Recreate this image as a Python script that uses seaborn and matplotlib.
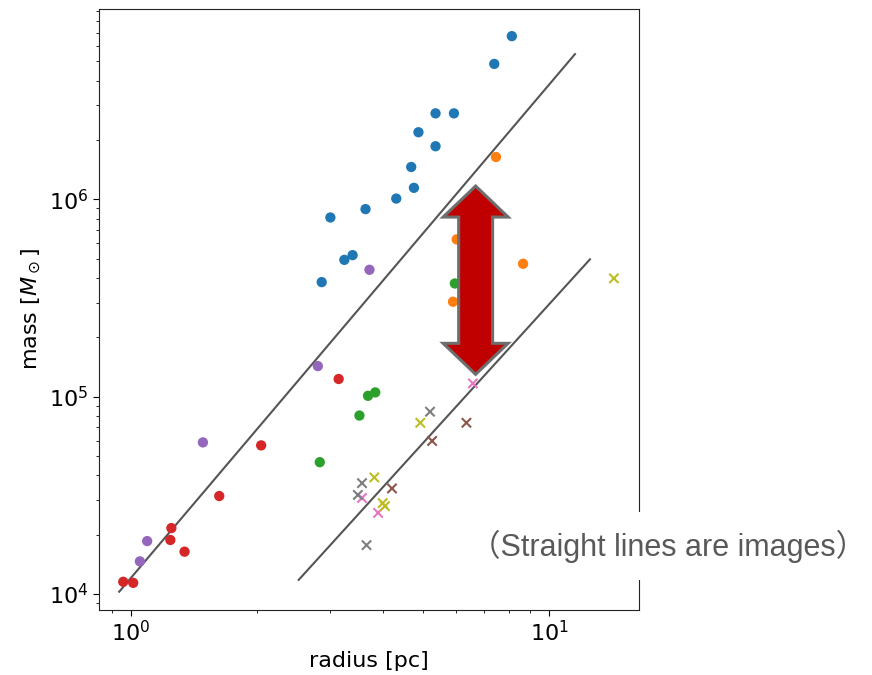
import numpy as np
import pandas as pd
import matplotlib
matplotlib.use("Agg")
import matplotlib.pyplot as plt
from matplotlib.patches import Polygon, Rectangle
import seaborn as sns

# ---- data ----
blue_r = [8.14, 7.39, 5.35, 5.92, 4.87, 5.35, 4.68, 4.75, 4.31, 3.64, 3.00, 3.24, 3.39, 2.86]
blue_m = [6.72e6, 4.86e6, 2.73e6, 2.73e6, 2.19e6, 1.86e6, 1.46e6, 1.145e6, 1.01e6, 8.93e5, 8.1e5, 4.94e5, 5.22e5, 3.81e5]
orange_r = [7.46, 6.01, 8.66, 5.89]
orange_m = [1.64e6, 6.27e5, 4.72e5, 3.03e5]
green_r = [5.95, 3.69, 3.84, 3.52, 2.83]
green_m = [3.75e5, 1.011e5, 1.052e5, 8.03e4, 4.66e4]
red_r = [3.14, 2.05, 1.628, 1.251, 1.244, 1.345, 0.96, 1.014]
red_m = [1.23e5, 5.67e4, 3.14e4, 2.16e4, 1.88e4, 1.64e4, 1.154e4, 1.14e4]
purple_r = [3.72, 2.80, 1.488, 1.095, 1.052]
purple_m = [4.40e5, 1.43e5, 5.87e4, 1.856e4, 1.465e4]

brown_r = [6.34, 5.25, 4.21]
brown_m = [7.38e4, 5.97e4, 3.43e4]
pink_r = [6.57, 3.57, 3.90]
pink_m = [1.168e5, 3.07e4, 2.58e4]
gray_r = [5.19, 3.57, 3.49, 3.66]
gray_m = [8.4e4, 3.65e4, 3.18e4, 1.77e4]
olive_r = [14.27, 4.92, 3.82, 4.00, 4.05]
olive_m = [3.98e5, 7.38e4, 3.90e4, 2.89e4, 2.79e4]

line1_r = [0.939, 11.52]
line1_m = [1.028e4, 5.45e6]
line2_r = [2.52, 12.51]
line2_m = [1.18e4, 4.97e5]

note_text = "（Straight lines are images）"

# ---- build tables ----
circle_groups = [("A", blue_r, blue_m), ("B", orange_r, orange_m), ("C", green_r, green_m),
                 ("D", red_r, red_m), ("E", purple_r, purple_m)]
cross_groups = [("F", brown_r, brown_m), ("G", pink_r, pink_m), ("H", gray_r, gray_m),
                ("I", olive_r, olive_m)]

def to_df(groups):
    rows = []
    for g, rr, mm in groups:
        for r, m in zip(rr, mm):
            rows.append({"group": g, "radius": r, "mass": m})
    return pd.DataFrame(rows)

df_c = to_df(circle_groups)
df_x = to_df(cross_groups)

tab = sns.color_palette("tab10")
pal_c = {g: tab[i] for i, (g, _, _) in enumerate(circle_groups)}
pal_x = {g: tab[i + 5] for i, (g, _, _) in enumerate(cross_groups)}

fig = plt.figure(figsize=(8.72, 6.75), dpi=100)
ax = fig.add_axes([0.113, 0.097, 0.620, 0.890])

ax.plot(line1_r, line1_m, color="#555555", lw=1.5, zorder=1)
ax.plot(line2_r, line2_m, color="#555555", lw=1.5, zorder=1)

sns.scatterplot(data=df_c, x="radius", y="mass", hue="group", palette=pal_c,
                marker="o", s=55, linewidth=0, legend=False, ax=ax, zorder=3)
sns.scatterplot(data=df_x, x="radius", y="mass", hue="group", palette=pal_x,
                marker="x", s=45, linewidth=1.5, legend=False, ax=ax, zorder=3)

ax.set_xscale("log")
ax.set_yscale("log")
ax.set_xlim(0.838, 16.4)
ax.set_ylim(8.35e3, 9.25e6)
ax.set_xlabel("radius [pc]", fontsize=16)
ax.set_ylabel(r"mass [$M_\odot$]", fontsize=16)
ax.tick_params(axis="both", which="major", labelsize=16, length=4)
ax.tick_params(axis="both", which="minor", length=2.5)
for sp in ax.spines.values():
    sp.set_color("#222222")

# red double arrow overlay (axes fraction)
cx, hw, sw = 0.6975, 0.0601, 0.0314
top, wing_t, wing_b, bot = 0.7049, 0.6533, 0.4431, 0.3915
arrow_pts = [(cx, top), (cx + hw, wing_t), (cx + sw, wing_t), (cx + sw, wing_b),
             (cx + hw, wing_b), (cx, bot), (cx - hw, wing_b), (cx - sw, wing_b),
             (cx - sw, wing_t), (cx - hw, wing_t)]
ax.add_patch(Polygon(arrow_pts, closed=True, transform=ax.transAxes,
                     facecolor="#C00000", edgecolor="#6e6e6e", lw=2.2,
                     joinstyle="miter", zorder=5))

# white backing box of the note (covers the right spine, as in the reference)
fig.patches.append(Rectangle((468 / 872, 1 - 580 / 675), (872 - 468) / 872, 68 / 675,
                             transform=fig.transFigure, facecolor="white",
                             edgecolor="none", zorder=9))
fig.text(470 / 872, 1 - 546 / 675, note_text, fontsize=22, color="#595959",
         family=["Liberation Sans", "Noto Sans CJK JP"], ha="left", va="center",
         zorder=10)

fig.savefig("out.png", dpi=100)
